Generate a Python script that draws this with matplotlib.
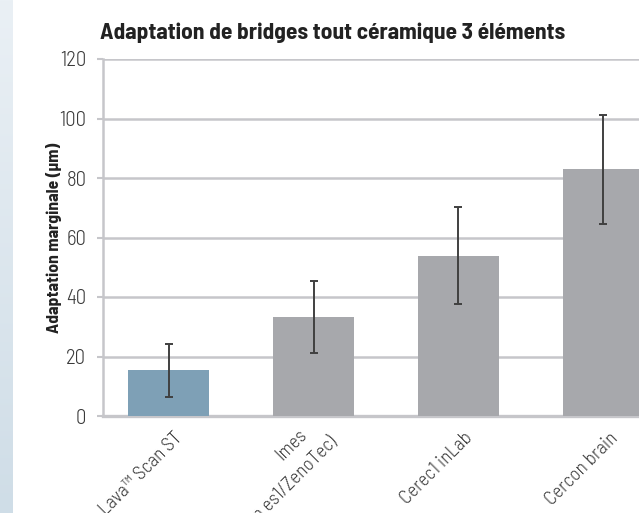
import numpy as np
import matplotlib
matplotlib.use("Agg")
import matplotlib.pyplot as plt
from matplotlib.colors import LinearSegmentedColormap
from matplotlib.transforms import ScaledTranslation, blended_transform_factory

categories = ["Lava\u2122 Scan ST", "Imes\n(Zirkon es1/ZenoTec)", "Cerec1 inLab", "Cercon brain"]
values = [15.3, 33.3, 53.8, 83.0]
errors = [9.0, 12.0, 16.3, 18.3]
bar_colors = ["#7ea0b6", "#a7a8ac", "#a7a8ac", "#a7a8ac"]
yticks = [0, 20, 40, 60, 80, 100, 120]

fam = ["Barlow Semi Condensed", "Liberation Sans", "DejaVu Sans"]

W, H = 639, 513
fig = plt.figure(figsize=(W / 100, H / 100), dpi=100)
fig.patch.set_facecolor("white")
renderer = fig.canvas.get_renderer()


def fit_width(t, target_px, horizontal=True):
    bb = t.get_window_extent(renderer)
    cur = bb.width if horizontal else bb.height
    t.set_fontsize(t.get_fontsize() * target_px / cur)


# left gradient strip
sax = fig.add_axes([0, 0, 13 / W, 1])
grad = np.linspace(0, 1, 256).reshape(-1, 1)
cm = LinearSegmentedColormap.from_list("g", ["#eaf0f5", "#cfdde7"])
sax.imshow(grad, aspect="auto", cmap=cm, origin="upper")
sax.axis("off")

ax = fig.add_axes([103 / W, 1 - 416 / H, 1 - 103 / W, (416 - 59) / H])
x = np.arange(len(categories))
ax.bar(x, values, width=0.56, color=bar_colors, zorder=3)
ax.errorbar(x, values, yerr=errors, fmt="none", ecolor="#404040", elinewidth=1.4,
            capsize=3.2, capthick=1.4, zorder=4)
ax.set_xlim(-0.452, 3.245)
ax.set_ylim(0, 120)
ax.set_yticks(yticks)
ax.yaxis.grid(True, color="#c6c6ca", linewidth=1.8, zorder=1)
ax.set_axisbelow(True)
for s in ["top", "right"]:
    ax.spines[s].set_visible(False)
ax.spines["left"].set_color("#c6c6ca")
ax.spines["left"].set_linewidth(1.8)
ax.spines["bottom"].set_color("#c6c6ca")
ax.spines["bottom"].set_linewidth(2.4)
ax.tick_params(axis="y", length=4, width=1.5, color="#c6c6ca", pad=8,
               labelsize=15, labelcolor="#3a3a3a")
for lab in ax.get_yticklabels():
    lab.set_family(fam)
    lab.set_fontweight(300)
ax.set_xticks(x)
ax.set_xticklabels([])
ax.tick_params(axis="x", length=0)

# rotated category labels (per line, offsets in pixels)
trans = blended_transform_factory(ax.transData, ax.transAxes)
line_offsets = {0: [(5, -13)], 1: [(-16, -10), (15, -17)], 2: [(5, -13)], 3: [(5, -13)]}
# size from the "Cerec1 inLab" label length (~66 px horizontal extent)
probe = fig.text(0, 0, categories[2], fontsize=13, fontweight=300, family=fam)
fit_width(probe, 66 * np.sqrt(2))
xsize = probe.get_fontsize()
probe.remove()
for i, cat in enumerate(categories):
    for j, line in enumerate(cat.split("\n")):
        dx, dy = line_offsets[i][j]
        t = trans + ScaledTranslation(dx / 100, dy / 100, fig.dpi_scale_trans)
        ax.text(x[i], 0, line, transform=t, rotation=45, rotation_mode="anchor",
                ha="right", va="top", fontsize=xsize, fontweight=300,
                color="#3a3a3a", family=fam, clip_on=False)

yl = ax.set_ylabel("Adaptation marginale (\u00b5m)", fontsize=11, fontweight="bold",
                   color="#222222", family=fam)
fit_width(yl, 190, horizontal=False)
ax.yaxis.set_label_coords(-(103 - 62) / (W - 103), 0.5)
ttl = fig.text(100 / W, 1 - 33 / H, "Adaptation de bridges tout c\u00e9ramique 3 \u00e9l\u00e9ments",
               fontsize=14, fontweight="bold", color="#222222", family=fam,
               ha="left", va="center")
fit_width(ttl, 466)

fig.savefig("out.png", dpi=100)
